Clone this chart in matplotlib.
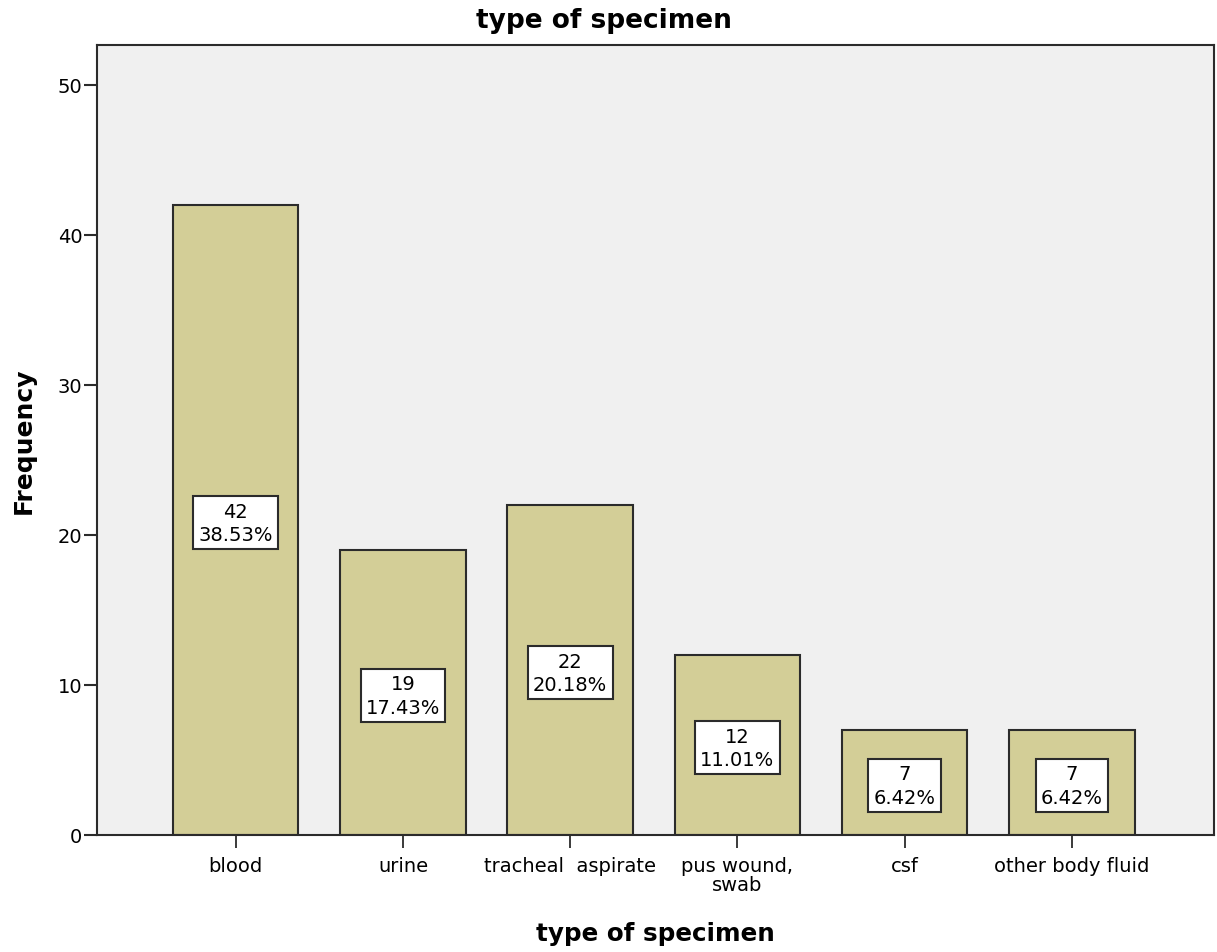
import matplotlib
matplotlib.use('Agg')
import matplotlib.pyplot as plt
import numpy as np

categories = ['blood', 'urine', 'tracheal  aspirate', 'pus wound,\nswab', 'csf', 'other body fluid']
counts = [42, 19, 22, 12, 7, 7]
percents = [38.53, 17.43, 20.18, 11.01, 6.42, 6.42]

plt.rcParams['font.family'] = ['DejaVu Sans']

fig = plt.figure(figsize=(12.17, 9.53), dpi=100)
ax = fig.add_axes([0.0797, 0.1228, 0.9178, 0.829])
ax.set_facecolor('#F0F0F0')

x = np.arange(len(categories))
width = 0.75
bars = ax.bar(x, counts, width, color='#D3CE97', edgecolor='#2b2b2b', linewidth=1.5, zorder=2)

# value / percent box in the middle of each bar
for rect, n, p in zip(bars, counts, percents):
    cx = rect.get_x() + rect.get_width() / 2
    ax.text(cx, n / 2 - 0.2, '{}\n{:.2f}%'.format(n, p), ha='center', va='center',
            fontsize=14, linespacing=1.3, zorder=3,
            bbox=dict(boxstyle='square,pad=0.27', facecolor='white', edgecolor='#2b2b2b', linewidth=1.5))

ax.set_xlim(-0.83, 5.85)
ax.set_ylim(0, 52.67)
ax.set_yticks([0, 10, 20, 30, 40, 50])
ax.set_xticks(x)
ax.set_xticklabels(categories, fontsize=14, linespacing=0.95)
ax.tick_params(axis='y', labelsize=14, length=9.5, width=1.5, color='#2b2b2b', pad=1)
ax.tick_params(axis='x', length=9.5, width=1.3, color='#2b2b2b', pad=6)
for s in ax.spines.values():
    s.set_color('#2b2b2b')
    s.set_linewidth(1.5)

fig.text(604 / 1217, 1 - 21 / 953, 'type of specimen', fontsize=19, fontweight='bold',
         ha='center', va='center')
ax.set_xlabel('type of specimen', fontsize=17.7, fontweight='bold', labelpad=19.5)
ax.set_ylabel('Frequency', fontsize=18, fontweight='bold', labelpad=16)

fig.savefig('out.png', dpi=100)
